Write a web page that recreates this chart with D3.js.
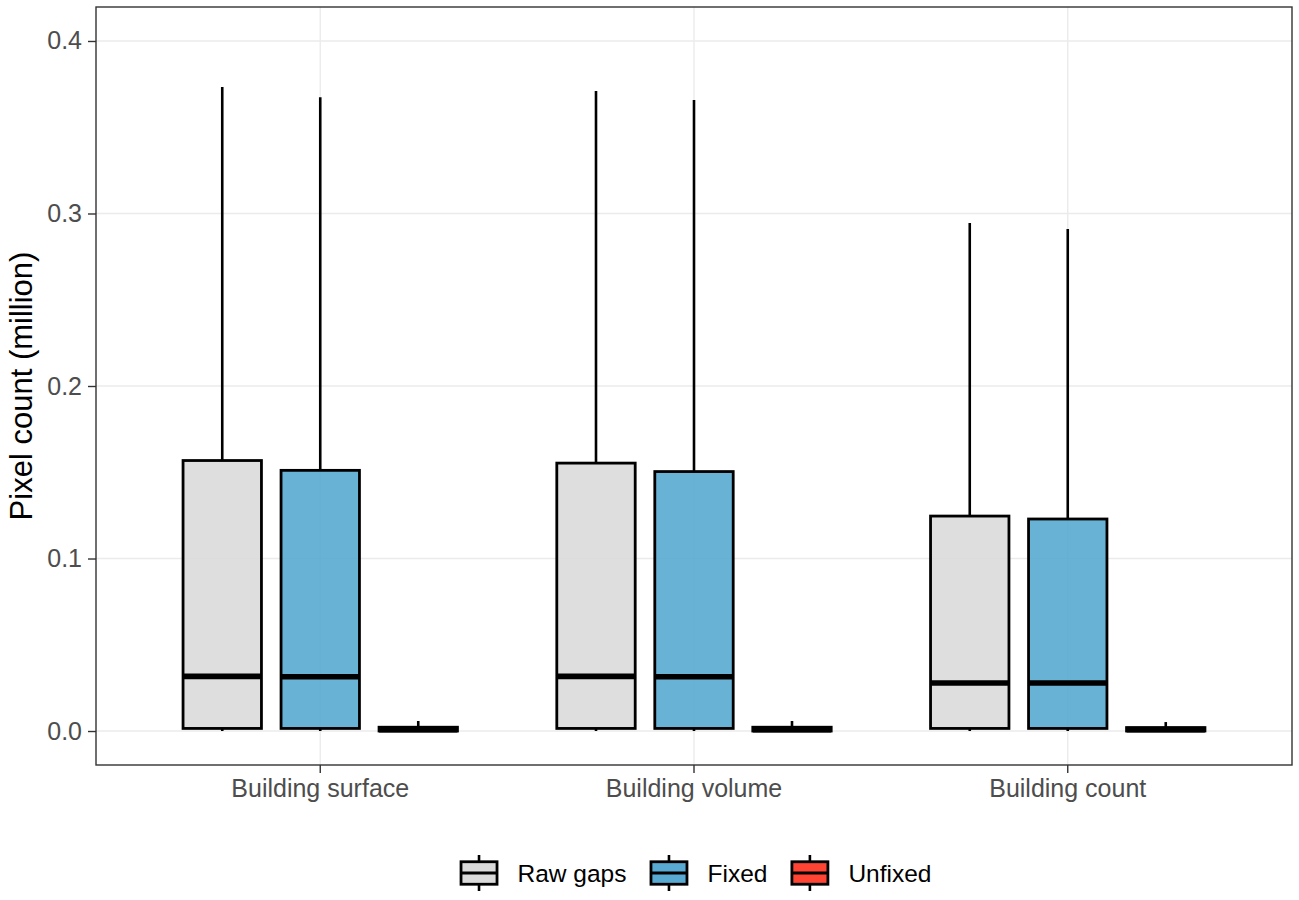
<!DOCTYPE html>
<html>
<head>
<meta charset="utf-8">
<script src="https://cdn.jsdelivr.net/npm/d3@7"></script>
<style>
  body { margin: 0; background: #fff; }
  svg { font-family: "Liberation Sans", Arial, sans-serif; }
</style>
</head>
<body>
<div id="chart"></div>
<script>
// categories on the x axis and the three series (dodged boxes)
const categories = ["Building surface", "Building volume", "Building count"];
const series = ["Raw gaps", "Fixed", "Unfixed"];
const colors = ["#DADADA", "#58AAD2", "#FF4433"];

// box stats per category: [lower whisker, q1, median, q3, upper whisker], million pixels
const rawGaps = [
  [0, 0.0015, 0.0317, 0.1568, 0.3733],
  [0, 0.0015, 0.0317, 0.1553, 0.3710],
  [0, 0.0015, 0.0278, 0.1246, 0.2945]
];
const fixed = [
  [0, 0.0015, 0.0315, 0.1511, 0.3674],
  [0, 0.0015, 0.0315, 0.1504, 0.3658],
  [0, 0.0015, 0.0278, 0.1229, 0.2910]
];
const unfixed = [
  [0, 0, 0.0008, 0.0022, 0.0058],
  [0, 0, 0.0008, 0.0022, 0.0058],
  [0, 0, 0.0008, 0.0020, 0.0052]
];
const yTicks = [0, 0.1, 0.2, 0.3, 0.4];

// flatten into rows for d3
const stats = [rawGaps, fixed, unfixed];
const rows = [];
categories.forEach((cat, i) => {
  series.forEach((s, j) => {
    const [lo, q1, med, q3, hi] = stats[j][i];
    rows.push({ cat: cat, series: s, lo, q1, med, q3, hi });
  });
});

const W = 1299, H = 900;
const margin = { top: 7, right: 7, bottom: 135, left: 96 };
const pw = W - margin.left - margin.right,
  ph = H - margin.top - margin.bottom;

const svg = d3.select("#chart").append("svg")
  .attr("width", W).attr("height", H);

const x = d3.scaleBand()
  .domain(categories)
  .range([margin.left, margin.left + pw])
  .paddingInner(0)
  .paddingOuter(0.1);

// dodge inside each category
const xs = d3.scaleBand()
  .domain(series)
  .range([-147, 147])
  .paddingInner(0.2)
  .paddingOuter(0.1);

const y = d3.scaleLinear()
  .domain([-0.0197, 0.4197])
  .range([margin.top + ph, margin.top]);

const color = d3.scaleOrdinal().domain(series).range(colors);

// grid lines
const grid = svg.append("g");
grid.selectAll("line.h")
  .data(yTicks)
  .join("line")
  .attr("class", "h")
  .attr("x1", margin.left).attr("x2", margin.left + pw)
  .attr("y1", d => y(d)).attr("y2", d => y(d))
  .attr("stroke", "#EBEBEB").attr("stroke-width", 1.4);
grid.selectAll("line.v")
  .data(categories)
  .join("line")
  .attr("class", "v")
  .attr("x1", d => x(d) + x.bandwidth() / 2).attr("x2", d => x(d) + x.bandwidth() / 2)
  .attr("y1", margin.top).attr("y2", margin.top + ph)
  .attr("stroke", "#EBEBEB").attr("stroke-width", 1.4);

// boxes
const boxes = svg.append("g")
  .selectAll("g")
  .data(rows)
  .join("g")
  .attr("transform", d => `translate(${x(d.cat) + x.bandwidth() / 2 + xs(d.series)},0)`);

const bw = xs.bandwidth();

boxes.append("line")
  .attr("x1", bw / 2).attr("x2", bw / 2)
  .attr("y1", d => y(d.hi)).attr("y2", d => y(d.q3))
  .attr("stroke", "#000").attr("stroke-width", 2.6);
boxes.append("line")
  .attr("x1", bw / 2).attr("x2", bw / 2)
  .attr("y1", d => y(d.q1)).attr("y2", d => y(d.lo))
  .attr("stroke", "#000").attr("stroke-width", 2.6);
boxes.append("rect")
  .attr("x", 0).attr("width", bw)
  .attr("y", d => y(d.q3))
  .attr("height", d => y(d.q1) - y(d.q3))
  .attr("fill", d => color(d.series))
  .attr("fill-opacity", 0.9)
  .attr("stroke", "#000").attr("stroke-width", 2.8);
boxes.append("line")
  .attr("x1", 0).attr("x2", bw)
  .attr("y1", d => y(d.med)).attr("y2", d => y(d.med))
  .attr("stroke", "#000").attr("stroke-width", 5.6);

// panel border
svg.append("rect")
  .attr("x", margin.left).attr("y", margin.top)
  .attr("width", pw).attr("height", ph)
  .attr("fill", "none").attr("stroke", "#333").attr("stroke-width", 1.4);

// axes
const yAxis = svg.append("g")
  .attr("transform", `translate(${margin.left},0)`)
  .call(d3.axisLeft(y).tickValues(yTicks).tickFormat(d3.format(".1f")).tickSize(8).tickPadding(6));
const xAxis = svg.append("g")
  .attr("transform", `translate(0,${margin.top + ph})`)
  .call(d3.axisBottom(x).tickSize(8).tickPadding(6));

[yAxis, xAxis].forEach(a => {
  a.select(".domain").remove();
  a.selectAll(".tick line").attr("stroke", "#333").attr("stroke-width", 1.4);
  a.selectAll(".tick text")
    .attr("fill", "#4D4D4D")
    .style("font-size", "25px");
});

svg.append("text")
  .attr("transform", `translate(32,${margin.top + ph / 2}) rotate(-90)`)
  .attr("text-anchor", "middle")
  .style("font-size", "31px")
  .attr("fill", "#000")
  .text("Pixel count (million)");

// legend, centred under the panel
const legend = svg.append("g");
const keyW = 45, keyH = 45, gapText = 16, gapItem = 20;
const items = legend.selectAll("g")
  .data(series)
  .join("g");
items.append("text")
  .attr("x", keyW + gapText)
  .attr("y", 0)
  .attr("dy", "0.35em")
  .style("font-size", "24.5px")
  .attr("fill", "#000")
  .text(d => d);

let cx = 0;
items.each(function () {
  const g = d3.select(this);
  const tw = g.select("text").node().getComputedTextLength();
  g.attr("transform", `translate(${cx},0)`);
  cx += keyW + gapText + tw + gapItem;
});
const legendW = cx - gapItem;

items.append("line")
  .attr("x1", keyW / 2).attr("x2", keyW / 2)
  .attr("y1", -keyH * 0.4).attr("y2", keyH * 0.4)
  .attr("stroke", "#000").attr("stroke-width", 2.6);
items.append("rect")
  .attr("x", keyW * 0.1).attr("width", keyW * 0.8)
  .attr("y", -keyH * 0.25).attr("height", keyH * 0.5)
  .attr("fill", d => color(d))
  .attr("stroke", "#000").attr("stroke-width", 2.8);
items.append("line")
  .attr("x1", keyW * 0.1).attr("x2", keyW * 0.9)
  .attr("y1", 0).attr("y2", 0)
  .attr("stroke", "#000").attr("stroke-width", 2.8);

legend.attr("transform", `translate(${margin.left + pw / 2 - legendW / 2},873)`);
</script>
</body>
</html>
